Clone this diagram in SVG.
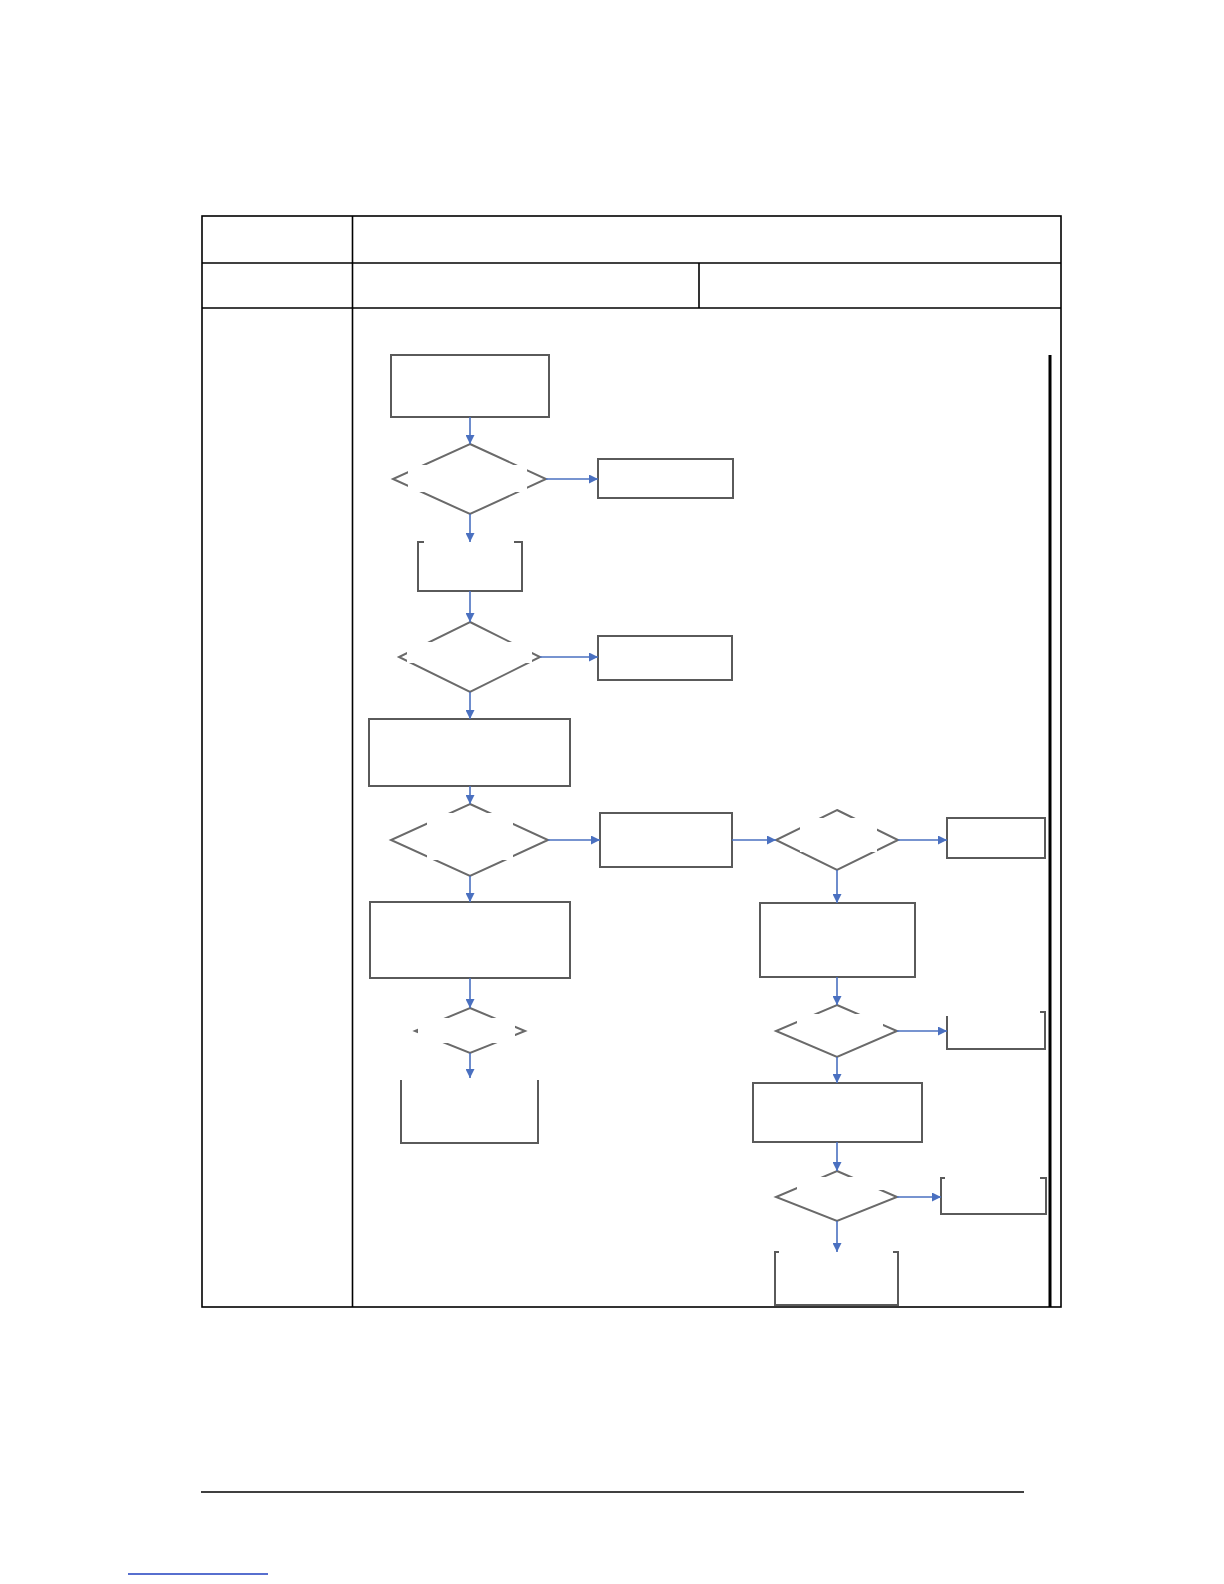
<svg xmlns="http://www.w3.org/2000/svg" width="1224" height="1584" viewBox="0 0 1224 1584">
<style>
.tbl{fill:none;stroke:#000;stroke-width:1.6}
.box{fill:#fff;stroke:#5a5a5a;stroke-width:2}
.open{fill:none;stroke:#5a5a5a;stroke-width:2}
.dia{fill:#fff;stroke:#6a6a6a;stroke-width:2}
.mask{fill:#fff;stroke:none}
.arr{fill:none;stroke:#4a70c0;stroke-width:1.6;marker-end:url(#ah)}
</style>
<defs>
<marker id="ah" viewBox="0 0 10 10" refX="10" refY="5" markerWidth="9" markerHeight="9" markerUnits="userSpaceOnUse" orient="auto">
<path d="M0,0 L10,5 L0,10 z" fill="#4a70c0"/>
</marker>
</defs>
<rect width="1224" height="1584" fill="#fff"/>
<g id="table">
<rect class="tbl" x="202" y="216" width="859" height="1091"/>
<line class="tbl" x1="202" y1="263" x2="1061" y2="263"/>
<line class="tbl" x1="202" y1="308" x2="1061" y2="308"/>
<line class="tbl" x1="352.5" y1="216" x2="352.5" y2="1307"/>
<line class="tbl" x1="699" y1="263" x2="699" y2="308"/>
<line x1="1050" y1="355" x2="1050" y2="1307" stroke="#000" stroke-width="3"/>
</g>
<g id="footer">
<line x1="201" y1="1492" x2="1024" y2="1492" stroke="#000" stroke-width="1.6"/>
<line x1="128" y1="1574" x2="268" y2="1574" stroke="#1f3fbf" stroke-width="1.4"/>
</g>
<g id="nodes">
<g id="b1"><rect class="box" x="391" y="355" width="158" height="62"/></g>
<g id="d1"><polygon class="dia" points="470,444 546,479 470,514 393,479"/><rect class="mask" x="408" y="465" width="119" height="27"/></g>
<g id="b2"><rect class="box" x="598" y="459" width="135" height="39"/></g>
<g id="b3"><path class="open" d="M424,542 H418 V591 H522 V542 H514"/></g>
<g id="d2"><polygon class="dia" points="470,622 540,657 470,692 399,657"/><rect class="mask" x="407" y="642" width="125" height="21"/></g>
<g id="b4"><rect class="box" x="598" y="636" width="134" height="44"/></g>
<g id="b5"><rect class="box" x="369" y="719" width="201" height="67"/></g>
<g id="d3"><polygon class="dia" points="470,804 548,840 470,876 391,840"/><rect class="mask" x="427" y="813" width="86" height="47"/></g>
<g id="b6"><rect class="box" x="600" y="813" width="132" height="54"/></g>
<g id="b7"><rect class="box" x="370" y="902" width="200" height="76"/></g>
<g id="d5"><polygon class="dia" points="470,1008 525,1031 470,1053 415,1031"/><rect class="mask" x="418" y="1018" width="97" height="25"/></g>
<g id="b8"><path class="open" d="M401,1080 V1143 H538 V1080"/></g>
<g id="d4"><polygon class="dia" points="837,810 898,840 837,870 776,840"/><rect class="mask" x="800" y="818" width="77" height="34"/></g>
<g id="b9"><rect class="box" x="947" y="818" width="98" height="40"/></g>
<g id="b10"><rect class="box" x="760" y="903" width="155" height="74"/></g>
<g id="d6"><polygon class="dia" points="837,1005 897,1031 837,1057 776,1031"/><rect class="mask" x="797" y="1014" width="86" height="22"/></g>
<g id="b11"><path class="open" d="M947,1016 V1049 H1045 V1012 H1040"/></g>
<g id="b12"><rect class="box" x="753" y="1083" width="169" height="59"/></g>
<g id="d7"><polygon class="dia" points="837,1171 897,1197 837,1221 776,1197"/><rect class="mask" x="797" y="1177" width="90" height="13"/></g>
<g id="b13"><path class="open" d="M945,1178 H941 V1214 H1046 V1178 H1040"/></g>
<g id="b14"><path class="open" d="M779,1252 H775 V1305 H898 V1252 H893"/></g>
</g>
<g id="connectors">
<line class="arr" x1="470" y1="417" x2="470" y2="444"/>
<line class="arr" x1="546" y1="479" x2="598" y2="479"/>
<line class="arr" x1="470" y1="514" x2="470" y2="542"/>
<line class="arr" x1="470" y1="591" x2="470" y2="622"/>
<line class="arr" x1="540" y1="657" x2="598" y2="657"/>
<line class="arr" x1="470" y1="692" x2="470" y2="719"/>
<line class="arr" x1="470" y1="786" x2="470" y2="804"/>
<line class="arr" x1="548" y1="840" x2="600" y2="840"/>
<line class="arr" x1="732" y1="840" x2="776" y2="840"/>
<line class="arr" x1="898" y1="840" x2="947" y2="840"/>
<line class="arr" x1="837" y1="870" x2="837" y2="903"/>
<line class="arr" x1="470" y1="876" x2="470" y2="902"/>
<line class="arr" x1="470" y1="978" x2="470" y2="1008"/>
<line class="arr" x1="470" y1="1053" x2="470" y2="1078"/>
<line class="arr" x1="837" y1="977" x2="837" y2="1005"/>
<line class="arr" x1="897" y1="1031" x2="947" y2="1031"/>
<line class="arr" x1="837" y1="1057" x2="837" y2="1083"/>
<line class="arr" x1="837" y1="1142" x2="837" y2="1171"/>
<line class="arr" x1="897" y1="1197" x2="941" y2="1197"/>
<line class="arr" x1="837" y1="1221" x2="837" y2="1252"/>
</g>
</svg>
